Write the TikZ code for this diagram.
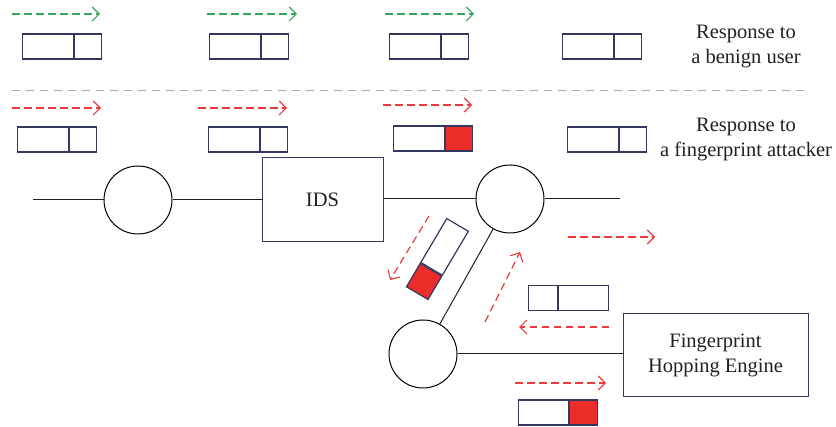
\documentclass[tikz,border=0pt]{standalone}
\usepackage{fontspec}
\setmainfont{Liberation Serif}
\usetikzlibrary{arrows.meta}
\definecolor{navy}{RGB}{52,55,95}
\definecolor{pktred}{RGB}{236,45,41}
\definecolor{flowred}{RGB}{238,58,58}
\definecolor{flowgreen}{RGB}{52,168,88}
\definecolor{sepgray}{RGB}{170,170,170}
\definecolor{ink}{RGB}{35,31,32}
\tikzset{
  cellbig/.style={draw=navy, line width=1.2pt, minimum width=51pt, minimum height=25pt, inner sep=0pt, anchor=west},
  cellsmall/.style={draw=navy, line width=1.2pt, minimum width=27pt, minimum height=25pt, inner sep=0pt, anchor=west},
  hit/.style={fill=pktred},
  hub/.style={circle, draw=black, line width=1pt, minimum size=68pt, inner sep=0pt},
  unit/.style={draw=navy, line width=1pt, inner sep=0pt, font=\fontsize{20.5}{25}\selectfont, text=ink, align=center},
  link/.style={draw=ink, line width=1pt},
  flow/.style={dash pattern=on 7.5pt off 4.5pt, line width=1.2pt, -{Straight Barb[length=7pt,width=14pt,line width=1.1pt]}},
  benign/.style={flow, flowgreen},
  attack/.style={flow, flowred},
  caption/.style={font=\fontsize{20.5}{25}\selectfont, text=ink, align=center},
}
\begin{document}
\begin{tikzpicture}[x=1pt, y=-1pt]
\useasboundingbox (0,0) rectangle (836,427);

% benign user: flow and packets
\draw[benign] (12,14) -- (100,14);
\draw[benign] (207,14) -- (297,14);
\draw[benign] (385,14) -- (474,14);
\node[cellbig] (b1a) at (22,46.5) {};   \node[cellsmall] (b1b) at (b1a.east) {};
\node[cellbig] (b2a) at (209,46.5) {};  \node[cellsmall] (b2b) at (b2a.east) {};
\node[cellbig] (b3a) at (389,46.5) {};  \node[cellsmall] (b3b) at (b3a.east) {};
\node[cellbig] (b4a) at (562,46.5) {};  \node[cellsmall] (b4b) at (b4a.east) {};
\node[caption] (tb) at (746,47) {Response to\\a benign user};

% separator
\draw[sepgray, line width=1pt, dash pattern=on 8pt off 6pt] (12,91) -- (808,91);

% fingerprint attacker: flow and packets
\draw[attack] (12,108) -- (101,108);
\draw[attack] (198,108) -- (287,108);
\draw[attack] (383,105) -- (472,105);
\node[cellbig] (a1a) at (17,139.5) {};  \node[cellsmall] (a1b) at (a1a.east) {};
\node[cellbig] (a2a) at (208,139.5) {}; \node[cellsmall] (a2b) at (a2a.east) {};
\node[cellbig] (a3a) at (393,138.5) {}; \node[cellsmall, hit] (a3b) at (a3a.east) {};
\node[cellbig] (a4a) at (567,139.5) {}; \node[cellsmall] (a4b) at (a4a.east) {};
\node[caption] (ta) at (746,140) {Response to\\a fingerprint attacker};

% network path
\node[hub] (c1) at (138,200) {};
\node[unit, minimum width=121pt, minimum height=84pt] (ids) at (322.5,200) {IDS};
\node[hub] (c2) at (510,199) {};
\node[hub] (c3) at (423,354) {};
\node[unit, minimum width=185pt, minimum height=83pt] (fhe) at (715.5,355.5) {Fingerprint\\Hopping Engine};
\coordinate (inlet) at (33,200);
\coordinate (outlet) at (620,199);

\draw[link] (inlet) -- (c1);
\draw[link] (c1) -- (ids);
\draw[link] (ids.east |- c2) -- (c2);
\draw[link] (c2) -- (outlet);
\draw[link] (c2) -- (c3);
\draw[link] (c3.east) -- (c3.east -| fhe.west);

% diverted traffic
\draw[attack] (429,216) -- (390,280);
\begin{scope}[shift={(438,258)}, rotate=239.4, transform shape]
  \node[cellbig] (ra) at (-39,0) {};
  \node[cellsmall, hit] (rb) at (ra.east) {};
\end{scope}
\draw[attack] (485,322) -- (520,252);
\draw[attack] (568,237) -- (655,237);
\node[cellsmall, minimum width=29pt] (ha) at (528,298) {};
\node[cellbig, minimum width=50pt] (hb) at (ha.east) {};
\draw[attack] (609,327) -- (519,327);
\draw[attack] (515,383) -- (606,383);
\node[cellbig, minimum width=50pt] (fa) at (518,412.5) {};
\node[cellsmall, hit, minimum width=28pt] (fb) at (fa.east) {};
\end{tikzpicture}
\end{document}
